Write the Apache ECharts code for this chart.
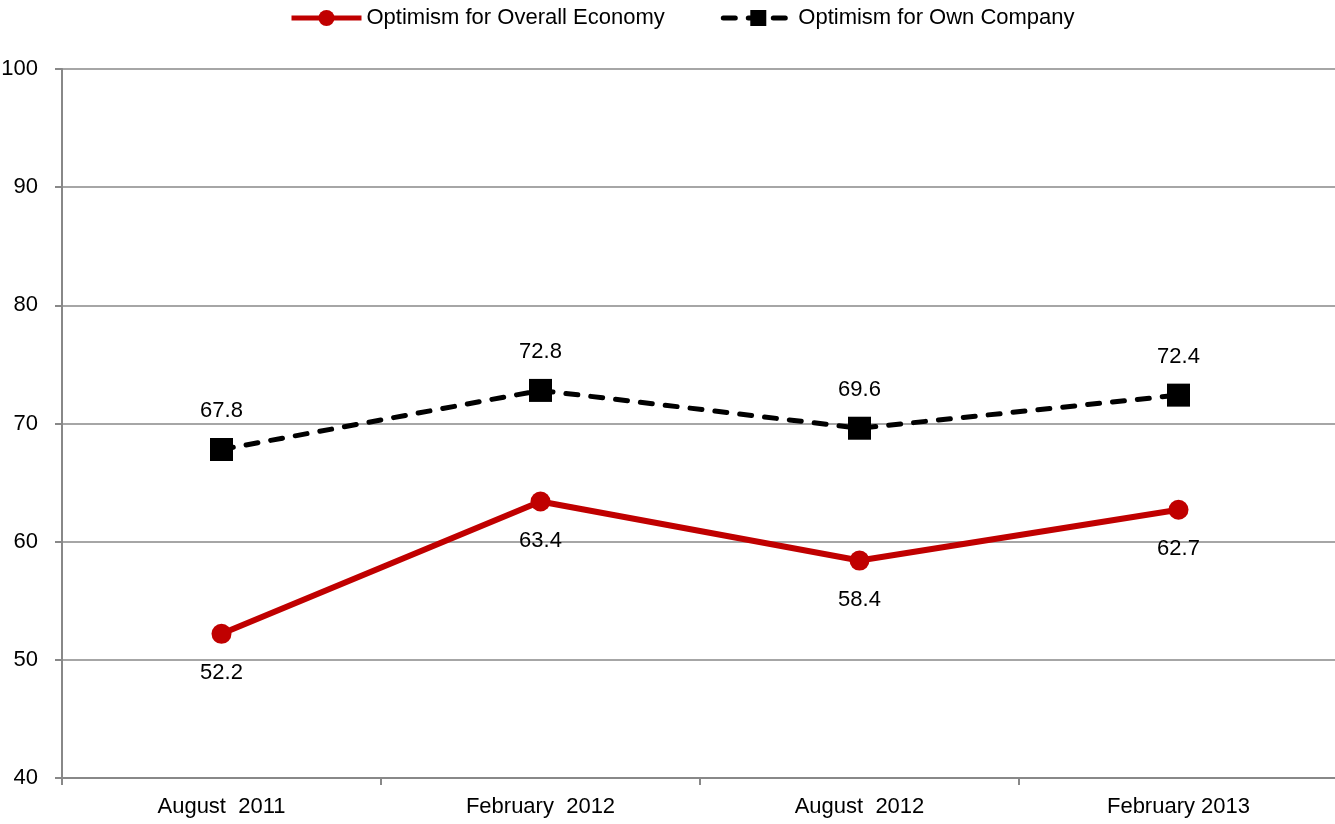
<!DOCTYPE html>
<html>
<head>
<meta charset="utf-8">
<script src="https://cdn.jsdelivr.net/npm/echarts@6/dist/echarts.min.js"></script>
<style>
  html, body { margin: 0; padding: 0; background: #fff; }
  #chart { width: 1335px; height: 824px; }
</style>
</head>
<body>
<div id="chart"></div>
<script>
// Survey periods along the x axis
const periods = ['August  2011', 'February  2012', 'August  2012', 'February 2013'];
// Optimism indices
const overallEconomy = [52.2, 63.4, 58.4, 62.7];
const ownCompany = [67.8, 72.8, 69.6, 72.4];
// Value axis range
const yMin = 40, yMax = 100, yStep = 10;

const FONT = "'Liberation Sans Narrow', 'Arial Narrow', 'Liberation Sans', sans-serif";
const chart = echarts.init(document.getElementById('chart'));

chart.setOption({
  animation: false,
  textStyle: { fontFamily: FONT },
  legend: {
    top: 2,
    left: 284,
    itemWidth: 70,
    itemHeight: 20,
    itemGap: 56,
    lineStyle: { width: 5 },
    textStyle: { fontFamily: FONT, fontSize: 22, color: '#000' },
    data: ['Optimism for Overall Economy', 'Optimism for Own Company']
  },
  grid: {
    left: 62, top: 69, width: 1276, bottom: 46,
    containLabel: false, outerBoundsMode: 'none'
  },
  xAxis: {
    type: 'category',
    data: periods,
    boundaryGap: true,
    axisLine: { lineStyle: { color: '#888', width: 2 } },
    axisTick: { show: true, length: 7, lineStyle: { color: '#888', width: 2 } },
    axisLabel: { color: '#000', fontSize: 22, margin: 18, fontFamily: FONT }
  },
  yAxis: {
    type: 'value',
    min: yMin, max: yMax, interval: yStep,
    axisLine: { show: true, lineStyle: { color: '#888', width: 2 } },
    axisTick: { show: true, length: 7, lineStyle: { color: '#888', width: 2 } },
    splitLine: { lineStyle: { color: '#888', width: 1.5 } },
    axisLabel: { color: '#000', fontSize: 22, margin: 24, fontFamily: FONT }
  },
  series: [
    {
      name: 'Optimism for Overall Economy',
      type: 'line',
      data: overallEconomy,
      symbol: 'circle',
      symbolSize: 20,
      itemStyle: { color: '#c00000' },
      lineStyle: { color: '#c00000', width: 6 },
      label: {
        show: true, position: 'bottom', distance: 18,
        color: '#000', fontSize: 22, fontFamily: FONT,
        formatter: p => p.value.toFixed(1)
      },
      z: 3
    },
    {
      name: 'Optimism for Own Company',
      type: 'line',
      data: ownCompany,
      symbol: 'rect',
      symbolSize: 23,
      itemStyle: { color: '#000' },
      lineStyle: { color: '#000', width: 5, type: [12, 13], cap: 'round' },
      label: {
        show: true, position: 'top', distance: 16,
        color: '#000', fontSize: 22, fontFamily: FONT,
        formatter: p => p.value.toFixed(1)
      },
      z: 4
    }
  ]
});
</script>
</body>
</html>
